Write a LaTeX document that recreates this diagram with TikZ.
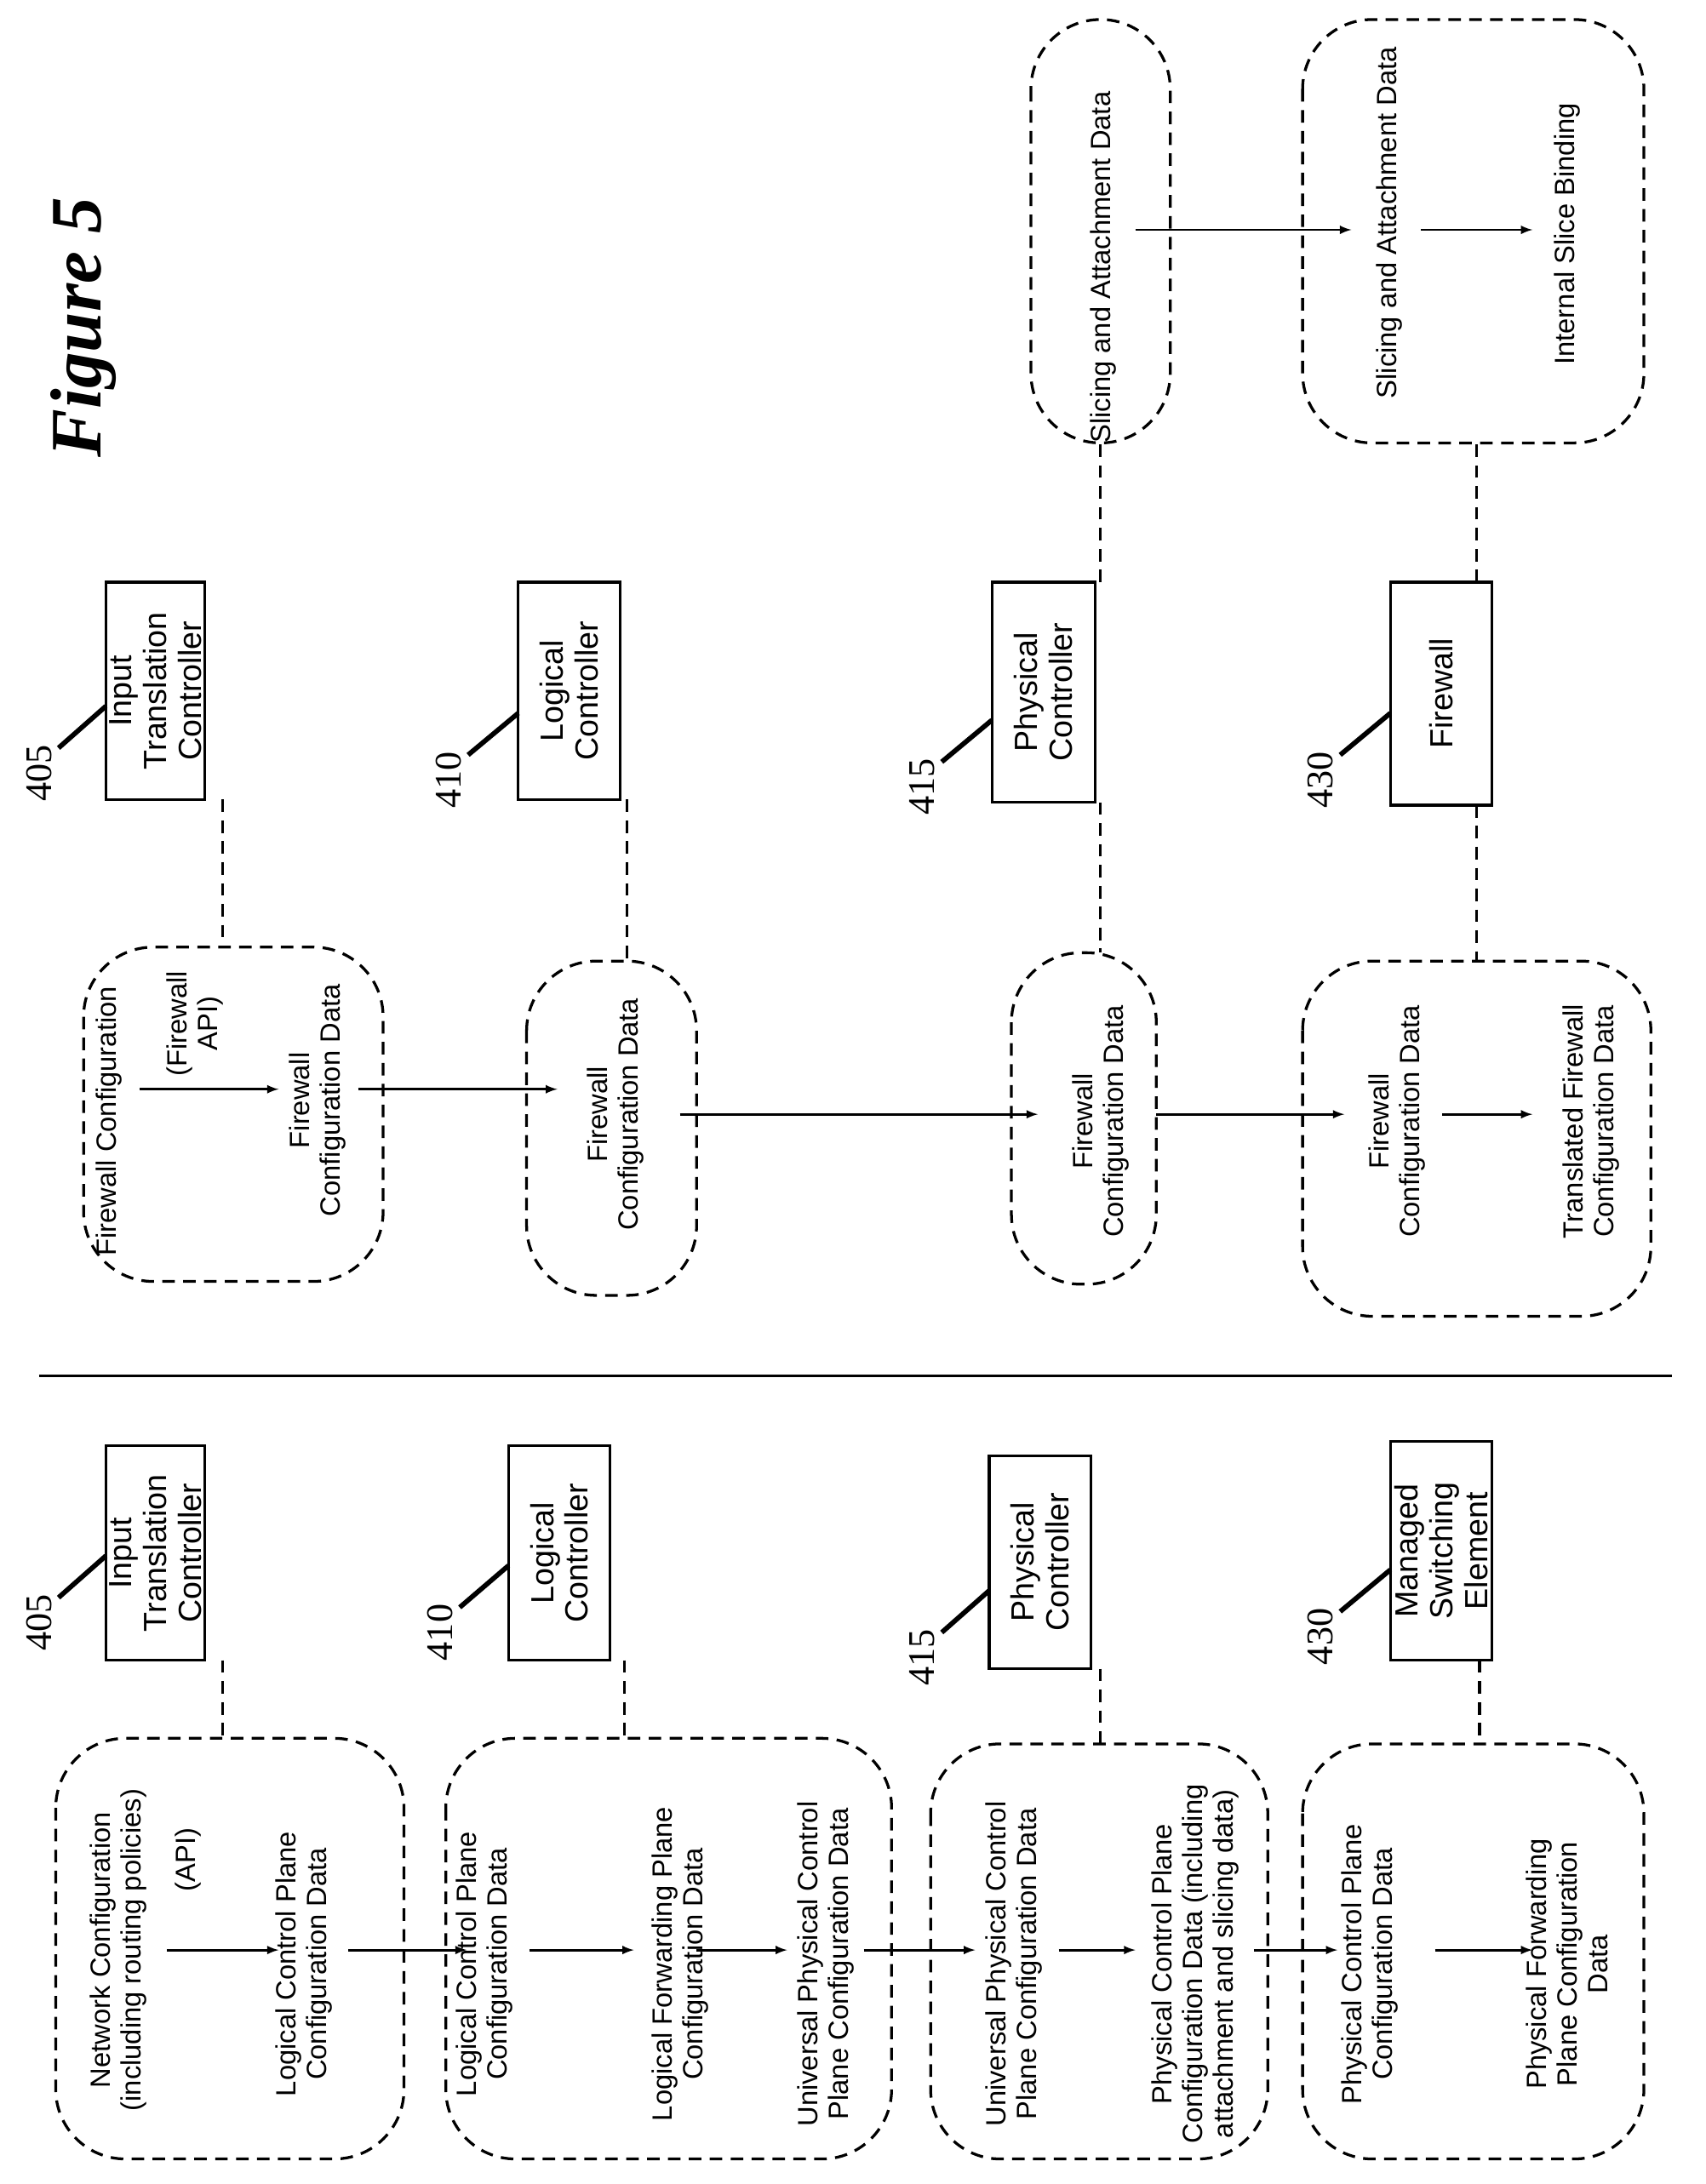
\documentclass[tikz,border=0pt]{standalone}
\usepackage{fontspec}
\setmainfont{Liberation Sans}
\newfontfamily\numfont{Liberation Serif}
\begin{document}
\begin{tikzpicture}[x=1pt,y=-1pt,
 box/.style={draw,line width=2pt},
 blob/.style={draw,dashed,line width=2pt,rounded corners=50pt,dash pattern=on 9pt off 6pt},
 dl/.style={draw,dashed,line width=2pt,dash pattern=on 9pt off 6pt},
 t/.style={rotate=90,align=center,font=\fontsize{20}{22}\selectfont,inner sep=0pt},
 bt/.style={rotate=90,align=center,font=\fontsize{23}{25}\selectfont,inner sep=0pt},
 arr/.style={->,>=latex,line width=1.8pt},
 num/.style={rotate=90,font=\numfont\fontsize{27}{28}\selectfont,inner sep=0pt},
 lead/.style={line width=3.5pt}]
\useasboundingbox (0,0) rectangle (1224,1568);
\node[rotate=90,font=\numfont\bfseries\itshape\fontsize{52}{56}\selectfont] (fig) at (60,235) {Figure 5};
\draw[line width=2pt] (28,988) -- (1200,988);
% boxes top
\node[box,minimum width=71pt,minimum height=156pt] (b1) at (111.5,496) {};
\node[bt] at (b1) {Input\\Translation\\Controller};
\node[box,minimum width=73pt,minimum height=156pt] (b2) at (408.5,496) {};
\node[bt] at (b2) {Logical\\Controller};
\node[box,minimum width=74pt,minimum height=158pt] (b3) at (749,497) {};
\node[bt] at (b3) {Physical\\Controller};
\node[box,minimum width=73pt,minimum height=160pt] (b4) at (1034.5,498) {};
\node[bt] at (b4) {Firewall};
\node[num] (n1) at (28,555) {405}; \draw[lead] (42,537) -- (76,507);
\node[num] (n2) at (322,560) {410}; \draw[lead] (336,542) -- (372,512);
\node[num] (n3) at (662,565) {415}; \draw[lead] (676,547) -- (712,517);
\node[num] (n4) at (948,560) {430}; \draw[lead] (962,542) -- (998,512);
% blobs top
\draw[blob] (60,680) rectangle (275,920);
\draw[blob] (378,690) rectangle (500,930);
\draw[blob] (726,684) rectangle (830,922);
\draw[blob] (935,690) rectangle (1185,945);
\draw[blob] (740,14) rectangle (840,318);
\draw[blob] (935,14) rectangle (1180,318);
\draw[dl] (160,574) -- (160,680);
\draw[dl] (450,574) -- (450,690);
\draw[dl] (790,576) -- (790,684);
\draw[dl] (1060,578) -- (1060,690);
\draw[dl] (790,418) -- (790,318);
\draw[dl] (1060,418) -- (1060,318);
\node[t] (a1) at (78,805) {Firewall Configuration};
\node[t] (a2) at (140,735) {(Firewall\\API)};
\draw[arr] (100,782) -- (200,782);
\node[t] (a3) at (228,790) {Firewall\\Configuration Data};
\draw[arr] (257,782) -- (400,782);
\node[t] (a4) at (442,800) {Firewall\\Configuration Data};
\draw[arr] (488,800) -- (745,800);
\node[t] (a5) at (790,805) {Firewall\\Configuration Data};
\draw[arr] (830,800) -- (965,800);
\node[t] (a6) at (1003,805) {Firewall\\Configuration Data};
\draw[arr] (1035,800) -- (1100,800);
\node[t] (a7) at (1142,805) {Translated Firewall\\Configuration Data};
\node[t] (s1) at (792,192) {Slicing and Attachment Data};
\draw[arr] (815,165) -- (970,165);
\node[t] (s2) at (997,160) {Slicing and Attachment Data};
\draw[arr] (1020,165) -- (1100,165);
\node[t] (s3) at (1125,168) {Internal Slice Binding};
% bottom boxes
\node[box,minimum width=71pt,minimum height=154pt] (c1) at (111.5,1115) {};
\node[bt] at (c1) {Input\\Translation\\Controller};
\node[box,minimum width=73pt,minimum height=154pt] (c2) at (401.5,1115) {};
\node[bt] at (c2) {Logical\\Controller};
\node[box,minimum width=73pt,minimum height=153pt] (c3) at (746.5,1121.5) {};
\node[bt] at (c3) {Physical\\Controller};
\node[box,minimum width=73pt,minimum height=157pt] (c4) at (1034.5,1113.5) {};
\node[bt] at (c4) {Managed\\Switching\\Element};
\node[num] at (28,1165) {405}; \draw[lead] (42,1147) -- (76,1117);
\node[num] at (316,1172) {410}; \draw[lead] (330,1154) -- (365,1124);
\node[num] at (662,1190) {415}; \draw[lead] (676,1172) -- (710,1142);
\node[num] at (948,1175) {430}; \draw[lead] (962,1157) -- (998,1127);
\draw[blob] (40,1248) rectangle (290,1550);
\draw[blob] (320,1248) rectangle (640,1550);
\draw[blob] (668,1252) rectangle (910,1550);
\draw[blob] (935,1252) rectangle (1180,1550);
\draw[dl] (160,1192) -- (160,1248);
\draw[dl] (448,1192) -- (448,1248);
\draw[dl] (790,1198) -- (790,1252);
\draw[dl] (1062,1192) -- (1062,1252);
\node[t] at (85,1400) {Network Configuration\\(including routing policies)};
\node[t] at (135,1335) {(API)};
\draw[arr] (120,1400) -- (200,1400);
\node[t] at (218,1410) {Logical Control Plane\\Configuration Data};
\draw[arr] (250,1400) -- (335,1400);
\node[t] at (348,1410) {Logical Control Plane\\Configuration Data};
\draw[arr] (380,1400) -- (455,1400);
\node[t] at (488,1410) {Logical Forwarding Plane\\Configuration Data};
\draw[arr] (500,1400) -- (565,1400);
\node[t] at (593,1410) {Universal Physical Control\\Plane Configuration Data};
\draw[arr] (620,1400) -- (700,1400);
\node[t] at (728,1410) {Universal Physical Control\\Plane Configuration Data};
\draw[arr] (760,1400) -- (815,1400);
\node[t] at (858,1410) {Physical Control Plane\\Configuration Data (including\\attachment and slicing data)};
\draw[arr] (900,1400) -- (960,1400);
\node[t] at (983,1410) {Physical Control Plane\\Configuration Data};
\draw[arr] (1030,1400) -- (1100,1400);
\node[t] at (1125,1410) {Physical Forwarding\\Plane Configuration\\Data};
\end{tikzpicture}
\end{document}
